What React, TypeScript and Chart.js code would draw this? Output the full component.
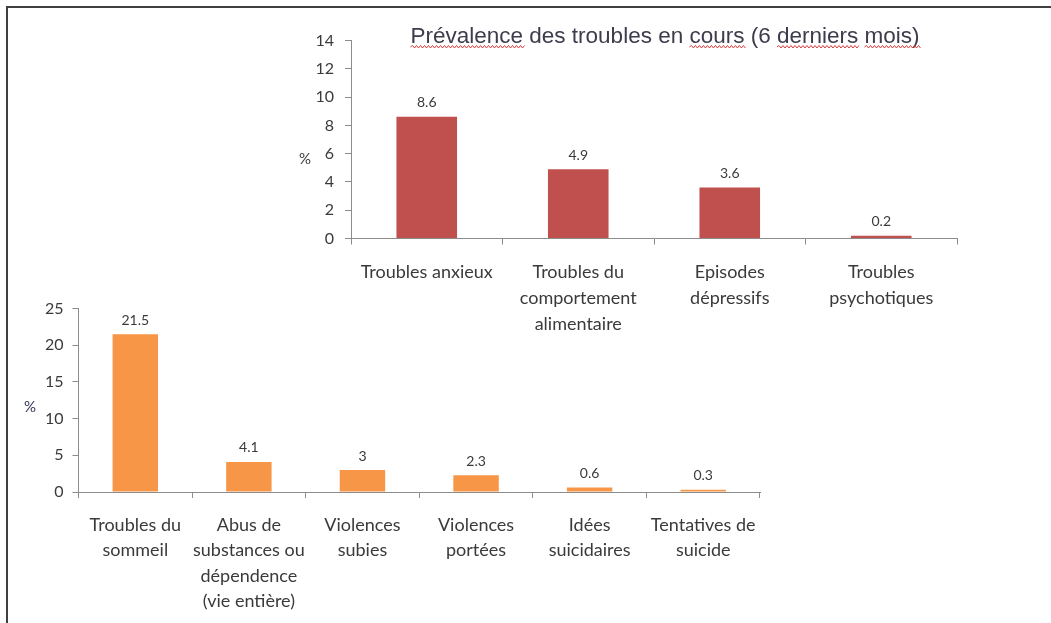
import React, { useEffect, useRef } from "react";
import { Chart, registerables } from "chart.js";

Chart.register(...registerables);

// ---------- DATA ----------
const topTitle = "Prévalence des troubles en cours (6 derniers mois)";
const topMisspelled = ["Prévalence", "cours", "derniers", "mois)"];
const topCategories: string[][] = [
  ["Troubles anxieux"],
  ["Troubles du", "comportement", "alimentaire"],
  ["Episodes", "dépressifs"],
  ["Troubles", "psychotiques"],
];
const topValues = [8.6, 4.9, 3.6, 0.2];
const topAxisMax = 14;
const topAxisStep = 2;

const bottomCategories: string[][] = [
  ["Troubles du", "sommeil"],
  ["Abus de", "substances ou", "dépendence", "(vie entière)"],
  ["Violences", "subies"],
  ["Violences", "portées"],
  ["Idées", "suicidaires"],
  ["Tentatives de", "suicide"],
];
const bottomValues = [21.5, 4.1, 3, 2.3, 0.6, 0.3];
const bottomAxisMax = 25;
const bottomAxisStep = 5;

const axisLabel = "%";

// ---------- STYLE ----------
const LABEL_FONT = "Lato, 'Open Sans', sans-serif";
const AXIS_COLOR = "#8c8c8c";
const TEXT_COLOR = "#3a3a3a";

const overlayPlugin = {
  id: "overlay",
  afterDatasetsDraw(chart: any, _args: any, opts: any) {
    const ctx = chart.ctx as CanvasRenderingContext2D;
    const meta = chart.getDatasetMeta(0);
    const data = chart.data.datasets[0].data as number[];
    ctx.save();
    ctx.font = `${opts.valueSize}px ${LABEL_FONT}`;
    ctx.fillStyle = TEXT_COLOR;
    ctx.textAlign = "center";
    ctx.textBaseline = "middle";
    meta.data.forEach((el: any, i: number) => {
      ctx.fillText(String(data[i]), el.x, el.y - opts.valueOffset);
    });
    // "%" axis label (horizontal)
    const ca = chart.chartArea;
    ctx.font = `${opts.pctSize}px ${LABEL_FONT}`;
    ctx.fillStyle = opts.pctColor;
    ctx.fillText(axisLabel, opts.pctX, ca.top + (ca.bottom - ca.top) * opts.pctFrac);

    // title drawn inside the plot area
    if (opts.title) {
      ctx.font = `${opts.titleSize}px 'Liberation Sans', Arial, sans-serif`;
      ctx.fillStyle = "#3c3c4c";
      ctx.textAlign = "left";
      ctx.textBaseline = "alphabetic";
      const total = ctx.measureText(opts.title).width;
      const x0 = opts.titleX - total / 2;
      const y = opts.titleY;
      ctx.fillText(opts.title, x0, y);
      // red spell-check squiggles
      const words = (opts.title as string).split(" ");
      let pos = 0;
      ctx.strokeStyle = "#d83a3a";
      ctx.lineWidth = 1;
      words.forEach((w: string) => {
        const start = x0 + ctx.measureText(opts.title.slice(0, pos)).width;
        const wEnd = start + ctx.measureText(w).width;
        if ((opts.misspelled as string[]).includes(w)) {
          ctx.beginPath();
          let x = start;
          let up = true;
          ctx.moveTo(x, y + 4);
          while (x < wEnd) {
            x += 2;
            ctx.lineTo(x, up ? y + 2.5 : y + 5);
            up = !up;
          }
          ctx.stroke();
        }
        pos += w.length + 1;
      });
    }
    ctx.restore();
  },
};

function makeConfig(
  categories: string[][],
  values: number[],
  color: string,
  max: number,
  step: number,
  yWidth: number,
  xHeight: number,
  padding: any,
  overlay: any,
  yPad: number,
  xPad: number,
  xLineHeight: number
): any {
  return {
    type: "bar",
    data: {
      labels: categories,
      datasets: [
        {
          data: values,
          backgroundColor: color,
          borderWidth: 0,
          barPercentage: 0.4,
          categoryPercentage: 1.0,
        },
      ],
    },
    options: {
      responsive: false,
      animation: false,
      events: [],
      layout: { padding },
      plugins: {
        legend: { display: false },
        tooltip: { enabled: false },
        title: { display: false },
        overlay,
      },
      scales: {
        x: {
          offset: true,
          grid: {
            display: true,
            drawOnChartArea: false,
            drawTicks: true,
            tickLength: 6,
            offset: true,
            color: AXIS_COLOR,
          },
          border: { display: true, color: AXIS_COLOR, width: 1 },
          ticks: {
            autoSkip: false,
            maxRotation: 0,
            minRotation: 0,
            padding: xPad,
            color: TEXT_COLOR,
            font: { family: LABEL_FONT, size: 18, lineHeight: xLineHeight },
          },
          afterFit: (s: any) => {
            s.height = xHeight;
          },
        },
        y: {
          min: 0,
          max,
          grid: {
            display: true,
            drawOnChartArea: false,
            drawTicks: true,
            tickLength: 6,
            color: AXIS_COLOR,
          },
          border: { display: true, color: AXIS_COLOR, width: 1 },
          ticks: {
            stepSize: step,
            padding: yPad,
            color: TEXT_COLOR,
            font: { family: LABEL_FONT, size: 16, lineHeight: 1.2 },
          },
          afterFit: (s: any) => {
            s.width = yWidth;
          },
        },
      },
    },
    plugins: [overlayPlugin],
  };
}

function BarCanvas(props: {
  config: any;
  left: number;
  top: number;
  width: number;
  height: number;
}) {
  const ref = useRef<HTMLCanvasElement | null>(null);
  useEffect(() => {
    if (!ref.current) return;
    const chart = new Chart(ref.current, props.config);
    return () => chart.destroy();
  }, []);
  return (
    <canvas
      ref={ref}
      width={props.width}
      height={props.height}
      style={{
        position: "absolute",
        left: props.left,
        top: props.top,
        width: props.width,
        height: props.height,
      }}
    />
  );
}

export default function App() {
  const topConfig = makeConfig(
    topCategories,
    topValues,
    "#C0504D",
    topAxisMax,
    topAxisStep,
    61,
    106.5,
    { top: 25.5, right: 13, left: 0, bottom: 0 },
    {
      valueSize: 14,
      valueOffset: 14,
      pctSize: 15,
      pctX: 15,
      pctFrac: 0.6,
      pctColor: "#3a3a3a",
      title: topTitle,
      misspelled: topMisspelled,
      titleSize: 22.5,
      titleX: 375,
      titleY: 28,
    },
    11,
    14.5,
    1.444
  );
  const bottomConfig = makeConfig(
    bottomCategories,
    bottomValues,
    "#F79646",
    bottomAxisMax,
    bottomAxisStep,
    78.5,
    131,
    { top: 15, right: 20, left: 0, bottom: 0 },
    {
      valueSize: 14,
      valueOffset: 14,
      pctSize: 15,
      pctX: 30,
      pctFrac: 0.535,
      pctColor: "#33335a",
    },
    9,
    14,
    1.42
  );
  return (
    <div
      style={{
        position: "fixed",
        left: 0,
        top: 0,
        width: 1051,
        height: 623,
        background: "#ffffff",
        overflow: "hidden",
      }}
    >
      <div
        style={{
          position: "absolute",
          left: 6,
          top: 6,
          width: 1200,
          height: 800,
          borderLeft: "2px solid #404040",
          borderTop: "2px solid #404040",
        }}
      />
      <BarCanvas config={topConfig} left={290} top={15} width={680} height={330} />
      <BarCanvas config={bottomConfig} left={0} top={290} width={780} height={333} />
    </div>
  );
}
